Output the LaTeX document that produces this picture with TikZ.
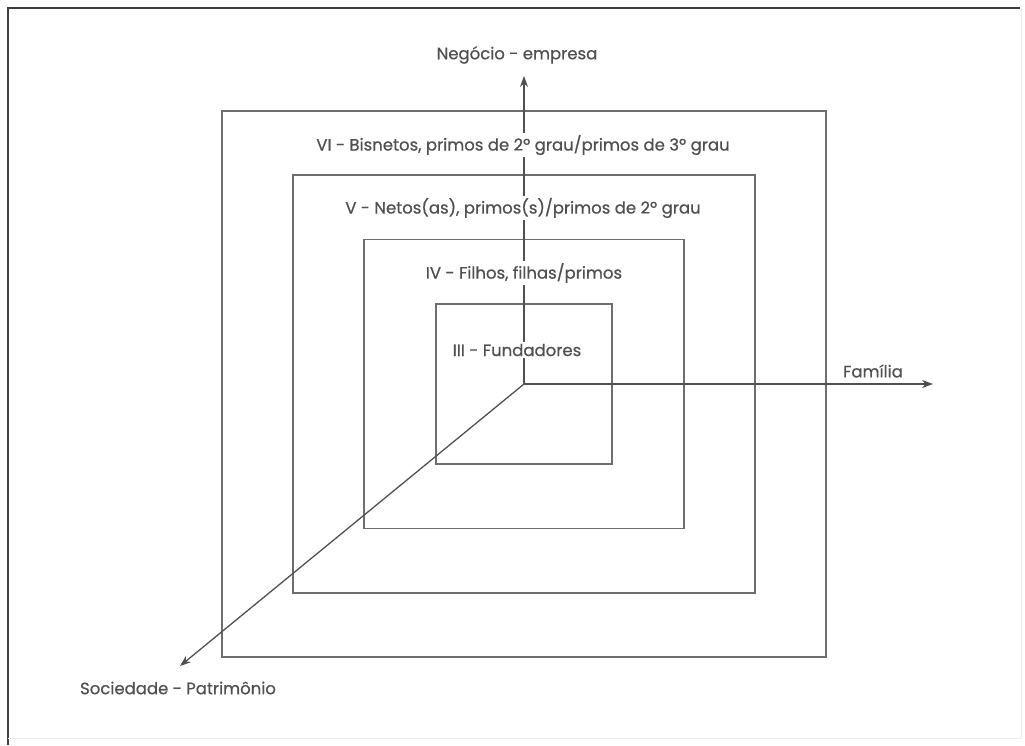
\documentclass[tikz,border=0pt]{standalone}
\usepackage{fontspec}
\setmainfont{Poppins}[FakeBold=0.6]
\usetikzlibrary{arrows.meta}
\definecolor{ink}{HTML}{505050}
\definecolor{rule}{HTML}{6E6E6E}
\tikzset{
  level/.style={draw=rule, line width=1.5pt, minimum width=#1},
  axis/.style={draw=ink, line width=1.3pt, -{Stealth[length=11pt,width=8pt]}},
  tag/.style={text=ink, font=\fontsize{16.5}{19}\selectfont, inner sep=2pt},
  masktag/.style={tag, fill=white},
}
\begin{document}
\begin{tikzpicture}[x=1pt,y=-1pt]
\useasboundingbox (0,0) rectangle (1025,745);
% page frame
\draw[black!75, line width=2pt] (8,745) -- (8,8) -- (1020,8);
\draw[black!7, line width=1pt] (1021,8) -- (1021,738) -- (8,738);

\coordinate (o) at (524,384);

% nested generation squares
\node[level=604pt, minimum height=546pt] (g6) at (o) {};
\node[level=462pt, minimum height=418pt] (g5) at (o) {};
\node[level=320pt, minimum height=289pt] (g4) at (o) {};
\node[level=176pt, minimum height=160pt] (g3) at (o) {};

% axes
\coordinate (up) at (524,76);
\coordinate (right) at (933,384);
\coordinate (down) at (180,666);
\draw[axis] (o) -- (up);
\draw[axis] (o) -- (right);
\draw[axis] (o) -- (down);

% labels
\node[tag] (ly) at (517,55) {Negócio - empresa};
\node[tag] (lx) at (873,371) {Família};
\node[tag] (lz) at (178,688) {Sociedade - Patrimônio};
\node[masktag] (t6) at (523,145) {VI - Bisnetos, primos de 2º grau/primos de 3º grau};
\node[masktag] (t5) at (523,208) {V - Netos(as), primos(s)/primos de 2º grau};
\node[masktag] (t4) at (524,273) {IV - Filhos, filhas/primos};
\node[masktag] (t3) at (517,350) {III - Fundadores};
\end{tikzpicture}
\end{document}
